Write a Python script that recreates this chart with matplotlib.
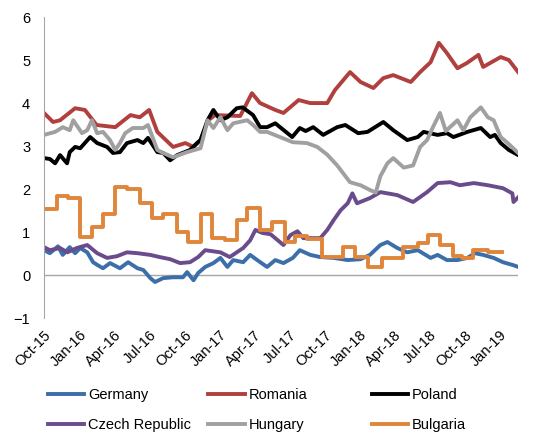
import matplotlib
matplotlib.use("Agg")
import matplotlib.pyplot as plt

plt.rcParams['font.family'] = ['Liberation Sans', 'DejaVu Sans']

# x = months since Oct-15
tick_labels = ['Oct-15', 'Jan-16', 'Apr-16', 'Jul-16', 'Oct-16', 'Jan-17', 'Apr-17',
               'Jul-17', 'Oct-17', 'Jan-18', 'Apr-18', 'Jul-18', 'Oct-18', 'Jan-19']

germany_m = [0, 0.5, 1.2, 1.6, 2.2, 2.66, 3.1, 3.7, 4.2, 4.6, 5.05, 5.65, 6.5, 7.2, 8.0, 8.5,
             9.1, 9.5, 10.2, 11.05, 11.9, 12.25, 12.8, 13.2, 13.8, 14.5, 15.1, 15.7, 16.2,
             17.05, 17.65, 18.25, 19.1, 19.8, 20.5, 21.3, 21.9, 22.8, 23.65, 24.8, 26.0,
             27.1, 27.9, 28.8, 29.4, 30.25, 31.1, 32.0, 33.1, 33.7, 34.5, 35.4, 36.25,
             36.9, 37.6, 38.5, 39.3, 40.2, 40.6]
germany_v = [0.58, 0.51, 0.67, 0.47, 0.65, 0.51, 0.63, 0.53, 0.30, 0.23, 0.16, 0.28, 0.16,
             0.30, 0.16, 0.12, -0.07, -0.16, -0.07, -0.05, -0.05, 0.07, -0.12, 0.05, 0.19,
             0.28, 0.40, 0.19, 0.35, 0.30, 0.47, 0.35, 0.19, 0.35, 0.28, 0.40, 0.58, 0.47,
             0.42, 0.40, 0.35, 0.37, 0.47, 0.70, 0.77, 0.63, 0.53, 0.58, 0.40, 0.47, 0.35,
             0.35, 0.40, 0.51, 0.47, 0.40, 0.30, 0.23, 0.19]

romania_m = [0, 0.77, 1.37, 2.66, 3.5, 4.5, 6.1, 7.4, 8.2, 9.0, 9.7, 11.05, 12.1, 12.8, 13.4,
             14.05, 14.65, 16.8, 17.8, 18.5, 19.8, 20.5, 21.8, 22.8, 24.25, 24.9, 26.2,
             27.1, 28.2, 29.05, 29.9, 31.4, 32.2, 33.1, 33.8, 34.5, 35.4, 36.2, 37.2,
             37.6, 39.1, 39.8, 40.6]
romania_v = [3.77, 3.56, 3.60, 3.88, 3.84, 3.49, 3.44, 3.72, 3.67, 3.84, 3.33, 2.98, 3.07,
             2.98, 3.14, 3.60, 3.72, 3.70, 4.23, 4.00, 3.84, 3.77, 4.07, 4.00, 4.00, 4.30,
             4.72, 4.49, 4.35, 4.58, 4.65, 4.49, 4.72, 4.95, 5.40, 5.16, 4.81, 4.93, 5.12,
             4.84, 5.07, 5.00, 4.72]

poland_m = [0, 0.5, 0.95, 1.37, 1.97, 2.2, 2.66, 3.1, 3.95, 4.55, 5.4, 5.9, 6.5, 7.1, 8.0,
            8.5, 8.9, 9.7, 10.2, 10.8, 11.4, 12.5, 13.1, 13.4, 14.0, 14.5, 15.1, 15.7, 16.5,
            17.0, 17.5, 17.9, 18.5, 19.1, 19.8, 21.25, 21.9, 22.4, 23.05, 23.9, 25.1, 25.8,
            26.9, 27.7, 29.05, 29.9, 31.1, 32.0, 32.5, 33.7, 34.5, 35.05, 36.25, 37.4,
            38.2, 38.6, 39.1, 39.8, 40.6]
poland_v = [2.72, 2.70, 2.60, 2.79, 2.60, 2.86, 2.98, 2.95, 3.21, 3.07, 2.98, 2.84, 2.86,
            3.07, 3.14, 3.07, 3.19, 2.86, 2.84, 2.67, 2.79, 2.91, 3.07, 3.14, 3.60, 3.84,
            3.60, 3.67, 3.88, 3.90, 3.80, 3.72, 3.44, 3.44, 3.53, 3.21, 3.42, 3.35, 3.44,
            3.26, 3.44, 3.49, 3.30, 3.33, 3.56, 3.37, 3.14, 3.21, 3.33, 3.26, 3.30, 3.21,
            3.33, 3.42, 3.21, 3.26, 3.07, 2.91, 2.79]

czech_m = [0, 0.5, 1.37, 2.0, 2.8, 3.7, 4.55, 5.4, 6.25, 7.1, 8.0, 9.1, 9.9, 10.8, 11.65,
           12.5, 13.2, 13.8, 15.1, 15.9, 17.05, 17.65, 18.1, 18.7, 19.4, 20.5, 21.1, 21.7,
           22.2, 23.65, 24.25, 24.8, 25.4, 26.0, 26.4, 26.8, 27.9, 28.8, 30.25, 31.6, 32.8,
           33.7, 34.8, 35.6, 36.8, 38.0, 39.3, 40.1, 40.2, 40.6]
czech_v = [0.65, 0.58, 0.63, 0.53, 0.63, 0.70, 0.51, 0.40, 0.44, 0.53, 0.51, 0.47, 0.42,
           0.37, 0.28, 0.30, 0.42, 0.58, 0.53, 0.42, 0.63, 0.81, 1.05, 0.98, 0.95, 0.70,
           0.93, 1.02, 0.86, 0.86, 1.05, 1.28, 1.51, 1.67, 1.90, 1.67, 1.79, 1.93, 1.86,
           1.70, 1.93, 2.14, 2.16, 2.09, 2.14, 2.09, 2.02, 1.90, 1.70, 1.81]

hungary_m = [0, 0.95, 1.6, 2.2, 2.5, 3.25, 3.7, 4.1, 4.55, 5.05, 5.65, 6.1, 6.5, 6.95, 7.6,
             8.5, 8.9, 9.7, 10.2, 11.05, 12.25, 13.4, 14.0, 14.5, 15.1, 15.7, 16.2, 17.4,
             17.9, 18.5, 19.1, 20.2, 21.3, 22.5, 23.4, 24.25, 25.1, 26.2, 27.1, 27.9, 28.4,
             28.8, 29.4, 29.9, 30.8, 31.6, 32.2, 32.8, 33.3, 33.9, 34.4, 35.4, 35.9, 36.5,
             37.4, 38.0, 38.5, 39.1, 39.7, 40.6]
hungary_v = [3.26, 3.33, 3.44, 3.37, 3.60, 3.30, 3.37, 3.60, 3.30, 3.33, 3.14, 2.91, 3.07,
             3.30, 3.42, 3.42, 3.49, 2.91, 2.84, 2.74, 2.86, 2.95, 3.60, 3.42, 3.67, 3.37,
             3.53, 3.60, 3.49, 3.33, 3.33, 3.21, 3.09, 3.07, 2.98, 2.80, 2.55, 2.16, 2.09,
             1.98, 1.92, 2.30, 2.60, 2.72, 2.50, 2.55, 2.98, 3.14, 3.44, 3.77, 3.35, 3.60,
             3.37, 3.67, 3.90, 3.67, 3.60, 3.21, 3.07, 2.84]

bulgaria_m = [0, 1.1, 2.05, 3.1, 4.1, 5.05, 6.1, 7.1, 8.2, 9.25, 10.2, 11.4, 12.3, 13.4,
              14.4, 15.5, 16.5, 17.4, 18.5, 19.5, 20.65, 21.5, 22.5, 23.8, 25.6, 26.65,
              27.75, 28.95, 30.75, 32.0, 32.9, 33.9, 35.05, 35.8, 36.75, 38.05, 39.25]
bulgaria_v = [1.53, 1.84, 1.79, 0.88, 1.12, 1.42, 2.05, 2.00, 1.67, 1.33, 1.42, 1.00, 0.77,
              1.42, 0.86, 0.81, 1.28, 1.56, 1.05, 1.23, 0.77, 0.91, 0.84, 0.42, 0.65, 0.42,
              0.19, 0.40, 0.65, 0.74, 0.93, 0.70, 0.44, 0.40, 0.58, 0.53, 0.53]

fig = plt.figure(figsize=(5.37, 4.37), dpi=100)
ax = fig.add_axes([0.082, 0.272, 0.883, 0.689])

lw = 2.8
ax.plot(germany_m, germany_v, color='#3C6EAA', lw=lw, label='Germany')
ax.plot(romania_m, romania_v, color='#B0403D', lw=lw, label='Romania')
ax.plot(poland_m, poland_v, color='black', lw=lw, label='Poland')
ax.plot(czech_m, czech_v, color='#6A4C8C', lw=lw, label='Czech Republic')
ax.plot(hungary_m, hungary_v, color='#A0A0A0', lw=lw, label='Hungary')
ax.plot(bulgaria_m, bulgaria_v, color='#E0863A', lw=lw, drawstyle='steps-post', label='Bulgaria')

ax.axhline(0, color='#A6A6A6', lw=1, zorder=0)
ax.set_xlim(0, 40.6)
ax.set_ylim(-1, 6)
ax.set_yticks(range(-1, 7))
ax.set_xticks(range(0, 40, 3))
ax.set_xticklabels(tick_labels, rotation=45, ha='right', va='top', rotation_mode='anchor')
ax.tick_params(axis='both', length=0, labelsize=10.5, colors='black')
ax.tick_params(axis='y', pad=10)
ax.tick_params(axis='x', pad=7)
for s in ['top', 'right', 'bottom']:
    ax.spines[s].set_visible(False)
ax.spines['left'].set_color('#A6A6A6')

lines = ax.get_lines()
cols = [(lines[0], lines[3]), (lines[1], lines[4]), (lines[2], lines[5])]
xs = [0.089, 0.388, 0.692]
for (a, b), x0 in zip(cols, xs):
    fig.legend([a, b], [a.get_label(), b.get_label()], loc='upper left',
               bbox_to_anchor=(x0, 0.113), frameon=False, fontsize=10.5,
               handlelength=2.5, handletextpad=0.25, labelspacing=1.15,
               borderpad=0, borderaxespad=0)

fig.savefig('out.png', dpi=100)
